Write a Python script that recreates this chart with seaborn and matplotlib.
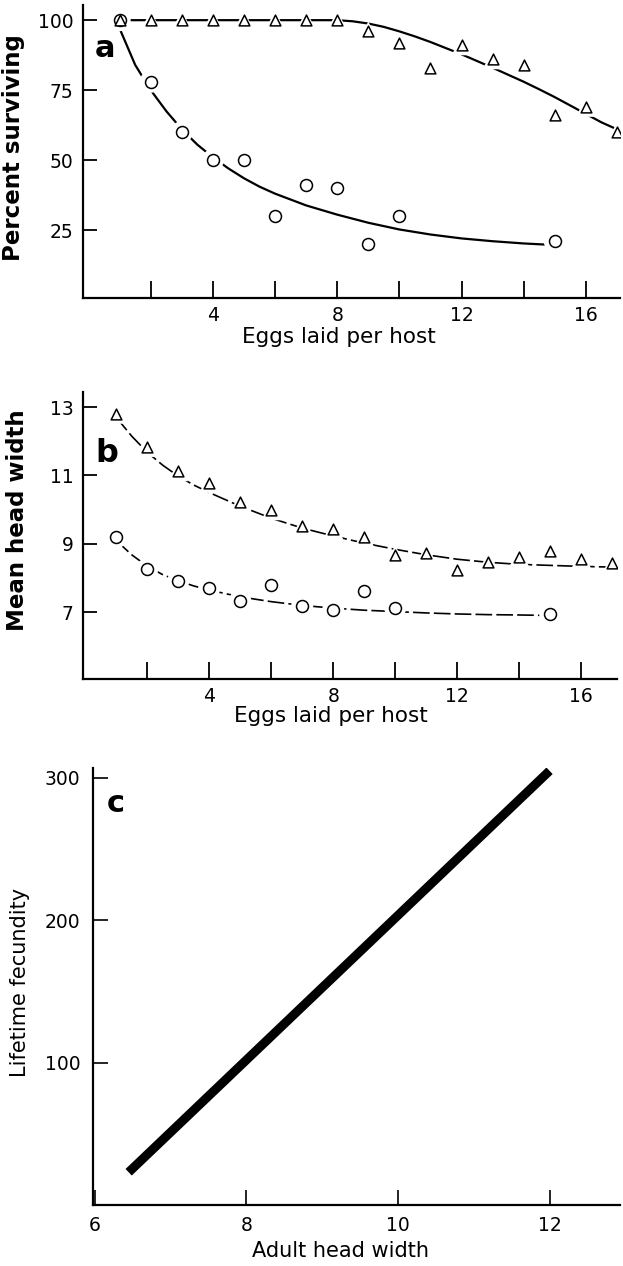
import matplotlib
matplotlib.use("Agg")
import matplotlib.pyplot as plt
import seaborn as sns
import pandas as pd

# ---------------- data ----------------
# panel a: percent surviving vs eggs laid per host
eggs_tri = [1, 2, 3, 4, 5, 6, 7, 8, 9, 10, 11, 12, 13, 14, 15, 16, 17]
surv_tri = [100, 100, 100, 100, 100, 100, 100, 100, 96, 92, 83, 91, 86, 84, 66, 69, 60]
eggs_circ = [1, 2, 3, 4, 5, 6, 7, 8, 9, 10, 15]
surv_circ = [100, 78, 60, 50, 50, 30, 41, 40, 20, 30, 21]

# fitted curves of panel a
fit_a_tri_x = [1, 2, 3, 4, 5, 6, 7, 8, 8.5, 9, 9.5, 10, 10.5, 11, 11.5, 12, 12.5, 13,
               13.5, 14, 14.5, 15, 15.5, 16, 16.5, 17, 17.3]
fit_a_tri_y = [100, 100, 100, 100, 100, 100, 100, 100, 99.6, 98.8, 97.6, 96, 94.2, 92.2,
               90, 87.8, 85.4, 83, 80.5, 78, 75.3, 72.5, 69.5, 66.5, 63.5, 61, 59.5]
fit_a_circ_x = [1.0, 1.5, 2, 2.5, 3, 3.5, 4, 4.5, 5, 5.5, 6, 7, 8, 9, 10, 11, 12, 13, 14, 14.7]
fit_a_circ_y = [97, 84, 75, 67.5, 61, 55.5, 51, 47, 43.5, 40.5, 38, 33.8, 30.5, 27.6,
                25.2, 23.4, 22, 21, 20.2, 19.8]

# panel b: mean head width vs eggs laid per host
head_tri = [12.8, 11.83, 11.12, 10.78, 10.23, 9.98, 9.53, 9.43, 9.2, 8.67, 8.72, 8.23,
            8.48, 8.62, 8.8, 8.57, 8.43]
head_circ = [9.19, 8.26, 7.91, 7.7, 7.34, 7.8, 7.19, 7.07, 7.63, 7.13, 6.94]

fit_b_tri_x = [1, 1.5, 2, 2.5, 3, 3.5, 4, 5, 6, 7, 8, 9, 10, 11, 12, 13, 14, 15, 16, 17]
fit_b_tri_y = [12.7, 12.15, 11.68, 11.3, 10.98, 10.72, 10.5, 10.1, 9.75, 9.46, 9.23,
               9.02, 8.84, 8.68, 8.55, 8.46, 8.4, 8.37, 8.34, 8.32]
fit_b_circ_x = [1, 1.5, 2, 2.5, 3, 3.5, 4, 5, 6, 7, 8, 9, 10, 11, 12, 13, 14, 14.7]
fit_b_circ_y = [9.1, 8.68, 8.35, 8.1, 7.92, 7.77, 7.65, 7.45, 7.31, 7.2, 7.12, 7.06,
                7.02, 6.98, 6.95, 6.93, 6.92, 6.91]

# panel c: lifetime fecundity vs adult head width
adult_head = [6.45, 12.0]
fecundity = [23, 305]

egg_ticks_major = [4, 8, 12, 16]
egg_ticks_minor = [2, 6, 10, 14]
surv_ticks = [25, 50, 75, 100]
head_ticks = [7, 9, 11, 13]
adult_ticks = [6, 8, 10, 12]
fec_ticks = [100, 200, 300]

# ---------------- style ----------------
sns.set_theme(style="ticks")
plt.rcParams["font.family"] = ["DejaVu Sans"]
plt.rcParams["axes.linewidth"] = 1.6
for key in ("text.color", "axes.labelcolor", "xtick.color", "ytick.color",
            "axes.edgecolor"):
    plt.rcParams[key] = "black"

fig = plt.figure(figsize=(6.23, 12.66), dpi=100)
axa = fig.add_axes([0.1332, 0.7646, 0.862, 0.2314])
axb = fig.add_axes([0.1332, 0.4637, 0.857, 0.2267])
axc = fig.add_axes([0.1493, 0.0482, 0.846, 0.3452])

for ax in (axa, axb, axc):
    sns.despine(ax=ax)
    ax.set_facecolor("white")
    for sp in ("left", "bottom"):
        ax.spines[sp].set_color("black")
        ax.spines[sp].set_linewidth(1.6)


def points(ax, x, y, marker, s):
    sns.scatterplot(x=x, y=y, marker=marker, s=s * 3.4, color="white",
                    edgecolor="none", linewidth=0, zorder=3, ax=ax, legend=False)
    sns.scatterplot(x=x, y=y, marker=marker, s=s, facecolor="white",
                    edgecolor="black", linewidth=1.1, zorder=4, ax=ax, legend=False)


def curve(ax, x, y, lw, ls="-"):
    sns.lineplot(x=x, y=y, color="black", linewidth=lw, linestyle=ls,
                 estimator=None, sort=False, zorder=2, ax=ax, legend=False)


# ---------------- panel a ----------------
curve(axa, fit_a_tri_x, fit_a_tri_y, 1.6)
curve(axa, fit_a_circ_x, fit_a_circ_y, 1.6)
points(axa, eggs_circ, surv_circ, "o", 74)
points(axa, eggs_tri, surv_tri, "^", 60)
axa.set_xlim(-0.18, 17.1)
axa.set_ylim(0.7, 105.4)
axa.set_yticks(surv_ticks)
axa.set_xticks(egg_ticks_major)
axa.set_xticks(egg_ticks_minor, minor=True)
axa.tick_params(axis="y", direction="in", length=10, width=1.3, labelsize=13.5, pad=7)
axa.tick_params(axis="x", which="both", direction="in", length=12, width=1.3,
                labelsize=13.5, pad=6)
axa.set_xlabel("Eggs laid per host", fontsize=15.5)
axa.set_ylabel("Percent surviving", fontsize=16.5, fontweight="bold")
axa.xaxis.set_label_coords(0.477, -0.10)
axa.yaxis.set_label_coords(-0.108, 0.515)
axa.text(0.022, 0.8225, "a", transform=axa.transAxes, fontsize=22,
         fontweight="bold", ha="left", va="baseline")

# ---------------- panel b ----------------
curve(axb, fit_b_tri_x, fit_b_tri_y, 1.2, (0, (10, 2.5)))
curve(axb, fit_b_circ_x, fit_b_circ_y, 1.2, (0, (10, 2.5)))
points(axb, eggs_circ, head_circ, "o", 74)
points(axb, eggs_tri, head_tri, "^", 60)
axb.set_xlim(-0.07, 17.15)
axb.set_ylim(5.05, 13.44)
axb.set_yticks(head_ticks)
axb.set_xticks(egg_ticks_major)
axb.set_xticks(egg_ticks_minor, minor=True)
axb.tick_params(axis="y", direction="in", length=10, width=1.3, labelsize=13.5, pad=7)
axb.tick_params(axis="x", which="both", direction="in", length=12, width=1.3,
                labelsize=13.5, pad=6)
axb.set_xlabel("Eggs laid per host", fontsize=15.5)
axb.set_ylabel("Mean head width", fontsize=16.5, fontweight="bold")
axb.xaxis.set_label_coords(0.464, -0.095)
axb.yaxis.set_label_coords(-0.101, 0.554)
axb.text(0.0225, 0.756, "b", transform=axb.transAxes, fontsize=23,
         fontweight="bold", ha="left", va="baseline")

# ---------------- panel c ----------------
sns.lineplot(x=adult_head, y=fecundity, color="black", linewidth=6.5,
             estimator=None, ax=axc, legend=False, solid_capstyle="butt")
axc.set_xlim(5.98, 12.93)
axc.set_ylim(0, 307)
axc.set_xticks(adult_ticks)
axc.set_yticks(fec_ticks)
axc.tick_params(axis="y", direction="in", length=11, width=1.2, labelsize=13.5, pad=9)
axc.tick_params(axis="x", direction="in", length=11, width=1.2, labelsize=13.5, pad=8)
axc.set_xlabel("Adult head width", fontsize=15)
axc.set_ylabel("Lifetime fecundity", fontsize=15)
axc.xaxis.set_label_coords(0.469, -0.082)
axc.yaxis.set_label_coords(-0.12, 0.51)
axc.text(0.0266, 0.899, "c", transform=axc.transAxes, fontsize=22,
         fontweight="bold", ha="left", va="baseline")

fig.savefig("out.png", dpi=100, facecolor="white")
